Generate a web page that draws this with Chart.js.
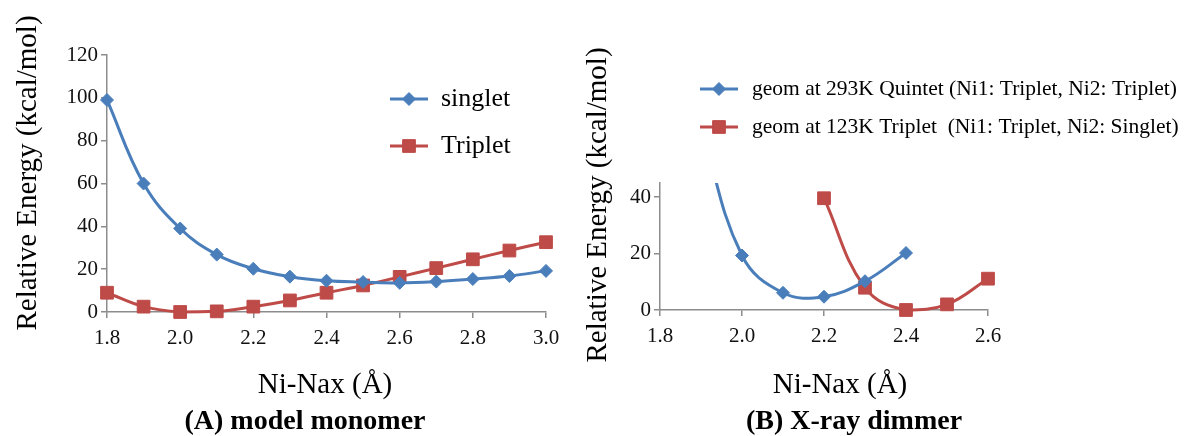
<!DOCTYPE html>
<html lang="en">
<head>
<meta charset="UTF-8">
<title>Relative Energy vs Ni-Nax</title>
<script src="https://cdn.jsdelivr.net/npm/chart.js"></script>
<style>
  body { margin: 0; background: #fff; }
  .panel { position: absolute; top: 0; }
  #left { left: 0; }
  #right { left: 580px; }
</style>
</head>
<body>
<div class="panel" id="left"><canvas id="chartA" width="580" height="436"></canvas></div>
<div class="panel" id="right"><canvas id="chartB" width="606" height="436"></canvas></div>

<script>
// (A) model monomer
const xMonomer = [1.8, 1.9, 2.0, 2.1, 2.2, 2.3, 2.4, 2.5, 2.6, 2.7, 2.8, 2.9, 3.0];
const singlet = [99, 60, 39, 26.8, 20.2, 16.5, 14.6, 14, 13.6, 14.2, 15.4, 16.8, 19.2];
const triplet = [9, 2.5, 0, 0.3, 2.5, 5.4, 9, 12.4, 16.4, 20.5, 24.6, 28.7, 32.6];
const xTicksA = [1.8, 2.0, 2.2, 2.4, 2.6, 2.8, 3.0];
const yTicksA = [0, 20, 40, 60, 80, 100, 120];

// (B) X-ray dimmer
const xQuintet = [1.9, 2.0, 2.1, 2.2, 2.3, 2.4];
const quintet = [65, 19.3, 6.1, 4.7, 10.2, 20.2];
const xTripletB = [2.2, 2.3, 2.4, 2.5, 2.6];
const tripletB = [39.6, 7.9, 0, 2, 11.1];
const xTicksB = [1.8, 2.0, 2.2, 2.4, 2.6];
const yTicksB = [0, 20, 40];

const blue = '#4A7EBB';
const red = '#BE4B48';
const axisColor = '#8C8C8C';
const serif = "'Liberation Serif', 'Times New Roman', serif";

Chart.defaults.font.family = serif;
Chart.defaults.color = '#111';

function pts(xs, ys) {
  return xs.map((x, i) => ({ x: x, y: ys[i] }));
}

// markers may hang over the plot edges; only the top is cut (for the steep blue branch)
const edgeClip = { left: 20, right: 20, top: 0, bottom: 20 };

function series(label, data, color, style, radius) {
  return {
    label: label,
    data: data,
    borderColor: color,
    backgroundColor: color,
    borderWidth: 3,
    pointStyle: style,
    pointRadius: radius,
    pointHoverRadius: radius,
    pointBorderWidth: 1,
    tension: 0.4,
    clip: edgeClip
  };
}

function xAxis(ticks, min, max, height) {
  return {
    type: 'linear', min: min, max: max,
    border: { color: axisColor, width: 1.5 },
    grid: { drawOnChartArea: false, tickLength: 6, color: axisColor, lineWidth: 1.5 },
    ticks: { font: { size: 21 }, padding: 8, maxRotation: 0, callback: v => v.toFixed(1) },
    afterBuildTicks: s => { s.ticks = ticks.map(v => ({ value: v })); },
    afterFit: s => { s.height = height; }
  };
}

function yAxis(ticks, min, max, width) {
  return {
    min: min, max: max,
    border: { color: axisColor, width: 1.5 },
    grid: { drawOnChartArea: false, tickLength: 6, color: axisColor, lineWidth: 1.5 },
    ticks: { font: { size: 21 }, padding: 3 },
    afterBuildTicks: s => { s.ticks = ticks.map(v => ({ value: v })); },
    afterFit: s => { s.width = width; }
  };
}

// axis titles, caption and an in-plot legend, drawn at fixed spots
function decor(cfg) {
  return {
    id: 'decor',
    afterDraw(chart) {
      const ctx = chart.ctx;
      ctx.save();
      ctx.fillStyle = '#000';
      ctx.textAlign = 'center';
      ctx.textBaseline = 'middle';

      ctx.font = '29px ' + serif;
      ctx.save();
      ctx.translate(cfg.yTitle[0], cfg.yTitle[1]);
      ctx.rotate(-Math.PI / 2);
      ctx.fillText('Relative Energy (kcal/mol)', 0, 0);
      ctx.restore();

      ctx.font = '29px ' + serif;
      ctx.fillText('Ni-Nax (Å)', cfg.xTitle[0], cfg.xTitle[1]);

      ctx.font = 'bold 28px ' + serif;
      ctx.fillText(cfg.caption, cfg.captionPos[0], cfg.captionPos[1]);

      // legend
      ctx.textAlign = 'left';
      ctx.font = cfg.legendFont + 'px ' + serif;
      chart.data.datasets.forEach((ds, i) => {
        const y = cfg.legendRows[i];
        ctx.strokeStyle = ds.borderColor;
        ctx.lineWidth = ds.borderWidth;
        ctx.beginPath();
        ctx.moveTo(cfg.legendLine[0], y);
        ctx.lineTo(cfg.legendLine[1], y);
        ctx.stroke();
        ctx.fillStyle = ds.backgroundColor;
        ctx.lineWidth = 1;
        Chart.helpers.drawPoint(ctx, {
          pointStyle: ds.pointStyle, radius: ds.pointRadius, rotation: 0, borderWidth: 1
        }, (cfg.legendLine[0] + cfg.legendLine[1]) / 2, y);
        ctx.fillStyle = '#000';
        ctx.fillText(cfg.legendLabels[i], cfg.legendText, y);
      });
      ctx.restore();
    }
  };
}

new Chart(document.getElementById('chartA'), {
  type: 'line',
  data: {
    datasets: [
      series('singlet', pts(xMonomer, singlet), blue, 'rectRot', 6.5),
      series('Triplet', pts(xMonomer, triplet), red, 'rect', 9)
    ]
  },
  options: {
    responsive: false,
    animation: false,
    layout: { padding: { left: 0, right: 34, top: 55, bottom: 0 } },
    scales: {
      x: xAxis(xTicksA, 1.8, 3.0, 124),
      y: yAxis(yTicksA, 0, 120, 107)
    },
    plugins: { legend: { display: false }, tooltip: { enabled: false } }
  },
  plugins: [decor({
    yTitle: [28, 173], xTitle: [325, 385],
    caption: '(A) model monomer', captionPos: [305, 422],
    legendFont: 26, legendRows: [99, 146], legendLine: [390, 428], legendText: 441,
    legendLabels: ['singlet', 'Triplet']
  })]
});

new Chart(document.getElementById('chartB'), {
  type: 'line',
  data: {
    datasets: [
      series('geom at 293K Quintet (Ni1: Triplet, Ni2: Triplet)', pts(xQuintet, quintet), blue, 'rectRot', 6.5),
      series('geom at 123K Triplet  (Ni1: Triplet, Ni2: Singlet)', pts(xTripletB, tripletB), red, 'rect', 9)
    ]
  },
  options: {
    responsive: false,
    animation: false,
    layout: { padding: { left: 0, right: 198, top: 183, bottom: 0 } },
    scales: {
      x: xAxis(xTicksB, 1.8, 2.6, 126),
      y: yAxis(yTicksB, 0, 45, 80)
    },
    plugins: { legend: { display: false }, tooltip: { enabled: false } }
  },
  plugins: [decor({
    yTitle: [18, 205], xTitle: [260, 385],
    caption: '(B) X-ray dimmer', captionPos: [274, 422],
    legendFont: 21.5, legendRows: [89, 127], legendLine: [120, 158], legendText: 172,
    legendLabels: ['geom at 293K Quintet (Ni1: Triplet, Ni2: Triplet)', 'geom at 123K Triplet  (Ni1: Triplet, Ni2: Singlet)']
  })]
});
</script>
</body>
</html>
